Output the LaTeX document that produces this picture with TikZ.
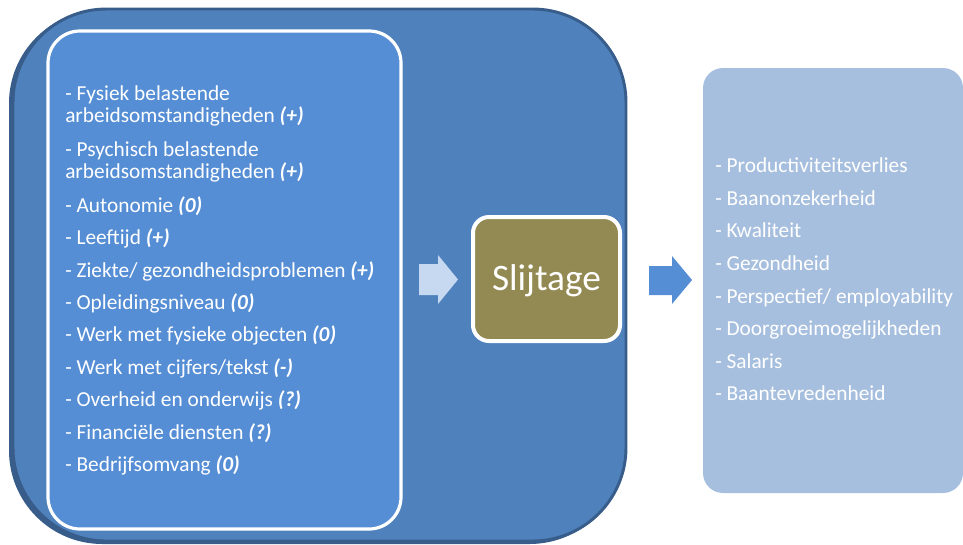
\documentclass[tikz,border=0pt]{standalone}
\usepackage{fontspec}
\setmainfont{Carlito}
\definecolor{outerfill}{HTML}{4F81BD}
\definecolor{outerline}{HTML}{385D8A}
\definecolor{innerfill}{HTML}{558ED5}
\definecolor{olivefill}{HTML}{938953}
\definecolor{paleblue}{HTML}{C6D9F1}
\definecolor{resultfill}{HTML}{A7BFDE}
\tikzset{
  item/.style={anchor=base west, inner sep=0pt, text=white, font=\fontsize{16pt}{19pt}\selectfont}
}
\newcommand{\sg}[1]{\textbf{\textit{#1}}}
\begin{document}
\begin{tikzpicture}[x=0.75pt,y=-0.75pt]
\useasboundingbox (0,0) rectangle (963,544);
% outer panel with a darker edge on the lower left
\fill[outerline, rounded corners=70pt] (9,10) rectangle (623,544);
\draw[outerline, fill=outerfill, line width=2.2pt, rounded corners=70pt] (13,9) rectangle (626,541);
% inner list panel
\draw[white, fill=innerfill, line width=2.4pt, rounded corners=24pt] (48,31) rectangle (401,529);
% central box
\draw[white, fill=olivefill, line width=3pt, rounded corners=12pt] (473,217) rectangle (620,341);
\node[anchor=base, inner sep=0pt, text=white, font=\fontsize{28pt}{33pt}\selectfont] (slijtage) at (546.5,290) {Slijtage};
% right list panel
\fill[resultfill, rounded corners=15pt] (703,68) rectangle (963,493);
% block arrows
\fill[paleblue] (419,264) -- (438,264) -- (438,255) -- (458,279.5) -- (438,304) -- (438,295) -- (419,295) -- cycle;
\fill[innerfill] (649,266) -- (672,266) -- (672,256) -- (692,280) -- (672,304) -- (672,295) -- (649,295) -- cycle;
% factors
\node[item] (f1a) at (65,100) {- Fysiek belastende};
\node[item] (f1b) at (65,122.5) {arbeidsomstandigheden \sg{(+)}};
\node[item] (f2a) at (65,156) {- Psychisch belastende};
\node[item] (f2b) at (65,178.5) {arbeidsomstandigheden \sg{(+)}};
\node[item] (f3) at (65,212.3) {- Autonomie \sg{(0)}};
\node[item] (f4) at (65,244.7) {- Leeftijd \sg{(+)}};
\node[item] (f5) at (65,277) {- Ziekte/ gezondheidsproblemen \sg{(+)}};
\node[item] (f6) at (65,309.4) {- Opleidingsniveau \sg{(0)}};
\node[item] (f7) at (65,341.8) {- Werk met fysieke objecten \sg{(0)}};
\node[item] (f8) at (65,374.2) {- Werk met cijfers/tekst \sg{(-)}};
\node[item] (f9) at (65,406.6) {- Overheid en onderwijs \sg{(?)}};
\node[item] (f10) at (65,439) {- Financiële diensten \sg{(?)}};
\node[item] (f11) at (65,471.4) {- Bedrijfsomvang \sg{(0)}};
% consequences
\node[item] (r1) at (715,172.7) {- Productiviteitsverlies};
\node[item] (r2) at (715,205.3) {- Baanonzekerheid};
\node[item] (r3) at (715,237.9) {- Kwaliteit};
\node[item] (r4) at (715,270.5) {- Gezondheid};
\node[item] (r5) at (715,303.1) {- Perspectief/ employability};
\node[item] (r6) at (715,335.7) {- Doorgroeimogelijkheden};
\node[item] (r7) at (715,368.3) {- Salaris};
\node[item] (r8) at (715,400.9) {- Baantevredenheid};
\end{tikzpicture}
\end{document}
